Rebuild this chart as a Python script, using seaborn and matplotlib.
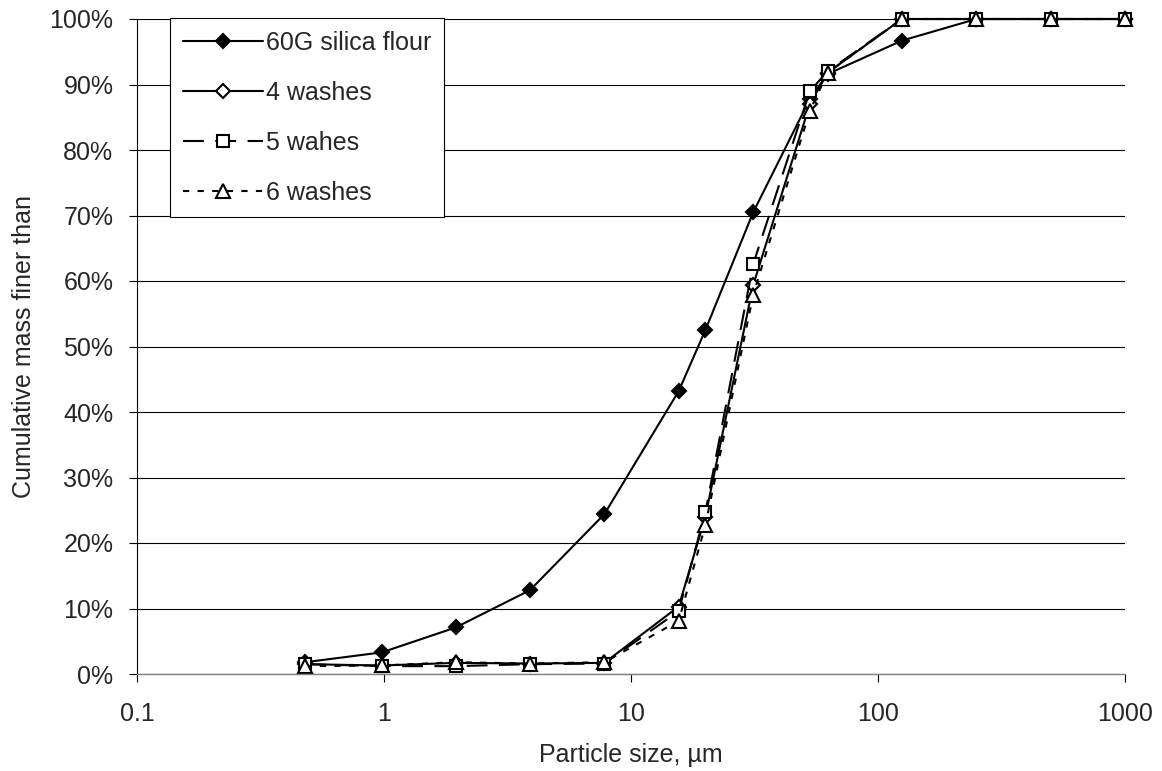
import matplotlib
matplotlib.use("Agg")
import matplotlib.pyplot as plt
import seaborn as sns
import pandas as pd

sizes = [0.48, 0.98, 1.95, 3.9, 7.8, 15.6, 20, 31.25, 53, 62.5, 125, 250, 500, 1000]
silica_60g = [1.8, 3.3, 7.1, 12.8, 24.4, 43.2, 52.5, 70.5, 87.8, 91.6, 96.7, 100, 100, 100]
washes_4 = [1.5, 1.3, 1.7, 1.6, 1.7, 10.3, 24.0, 59.4, 87.0, 91.8, 100, 100, 100, 100]
wahes_5 = [1.5, 1.2, 1.2, 1.5, 1.6, 9.6, 24.7, 62.6, 89.0, 92.0, 100, 100, 100, 100]
washes_6 = [1.2, 1.3, 1.8, 1.6, 1.8, 8.1, 22.7, 57.9, 86.0, 91.8, 100, 100, 100, 100]

series_names = ["60G silica flour", "4 washes", "5 wahes", "6 washes"]
x_ticks = [0.1, 1, 10, 100, 1000]
x_tick_labels = ["0.1", "1", "10", "100", "1000"]
y_ticks = [0, 10, 20, 30, 40, 50, 60, 70, 80, 90, 100]
y_tick_labels = [f"{v}%" for v in y_ticks]

sns.set_style("ticks")
plt.rcParams["font.family"] = ["Liberation Sans", "DejaVu Sans"]

fig = plt.figure(figsize=(11.62, 7.71), dpi=100)
# axes: x 137..1125 px, y 19..674 px
ax = fig.add_axes([137 / 1162, 1 - 674 / 771, (1125 - 137) / 1162, (674 - 19) / 771])

styles = [
    dict(marker="D", markerfacecolor="black", markeredgecolor="black", markersize=7.5, ls="-"),
    dict(marker="D", markerfacecolor="white", markeredgecolor="black", markersize=7.0, ls="-"),
    dict(marker="s", markerfacecolor="white", markeredgecolor="black", markersize=9, dashes=(10, 5.5)),
    dict(marker="^", markerfacecolor="white", markeredgecolor="black", markersize=9.5, dashes=(3, 4)),
]
data = [silica_60g, washes_4, wahes_5, washes_6]

for name, vals, st in zip(series_names, data, styles):
    df = pd.DataFrame({"size": sizes, "pct": vals})
    st = dict(st)
    dashes = st.pop("dashes", None)
    ls = st.pop("ls", None)
    sns.lineplot(data=df, x="size", y="pct", ax=ax, sort=False, label=name,
                 estimator=None, color="black", linewidth=1.5,
                 markeredgewidth=1.5, clip_on=False, **st)
    ln = ax.lines[-1]
    if dashes is not None:
        ln.set_dashes(dashes)
    elif ls is not None:
        ln.set_linestyle(ls)

ax.set_xscale("log")
ax.set_xlim(0.1, 1000)
ax.set_ylim(0, 100)
ax.set_xticks(x_ticks)
ax.set_xticklabels(x_tick_labels)
ax.minorticks_off()
ax.set_yticks(y_ticks)
ax.set_yticklabels(y_tick_labels)
ax.yaxis.grid(True, color="black", linewidth=0.8)
ax.set_axisbelow(True)
ax.tick_params(axis="both", labelsize=18, length=6, width=0.8, color="black")
ax.tick_params(axis="y", pad=11)
ax.tick_params(axis="x", pad=14.5)
for side in ["top", "right"]:
    ax.spines[side].set_visible(False)
ax.spines["left"].set_color("black")
ax.spines["left"].set_linewidth(0.8)
ax.spines["bottom"].set_color("#808080")
ax.spines["bottom"].set_linewidth(1.0)

ax.set_xlabel("Particle size, µm", fontsize=18, labelpad=12)
ax.set_ylabel("Cumulative mass finer than", fontsize=18, labelpad=9.5)

leg = ax.legend(loc="upper left", bbox_to_anchor=(33 / 988, 1.0015), borderaxespad=0,
                fontsize=18, handlelength=3.2, labelspacing=1.04, numpoints=1,
                fancybox=False, framealpha=1, edgecolor="black", borderpad=0.5,
                handletextpad=0.16)
leg.get_frame().set_linewidth(0.8)
leg.set_zorder(5)

fig.savefig("out.png", dpi=100)
